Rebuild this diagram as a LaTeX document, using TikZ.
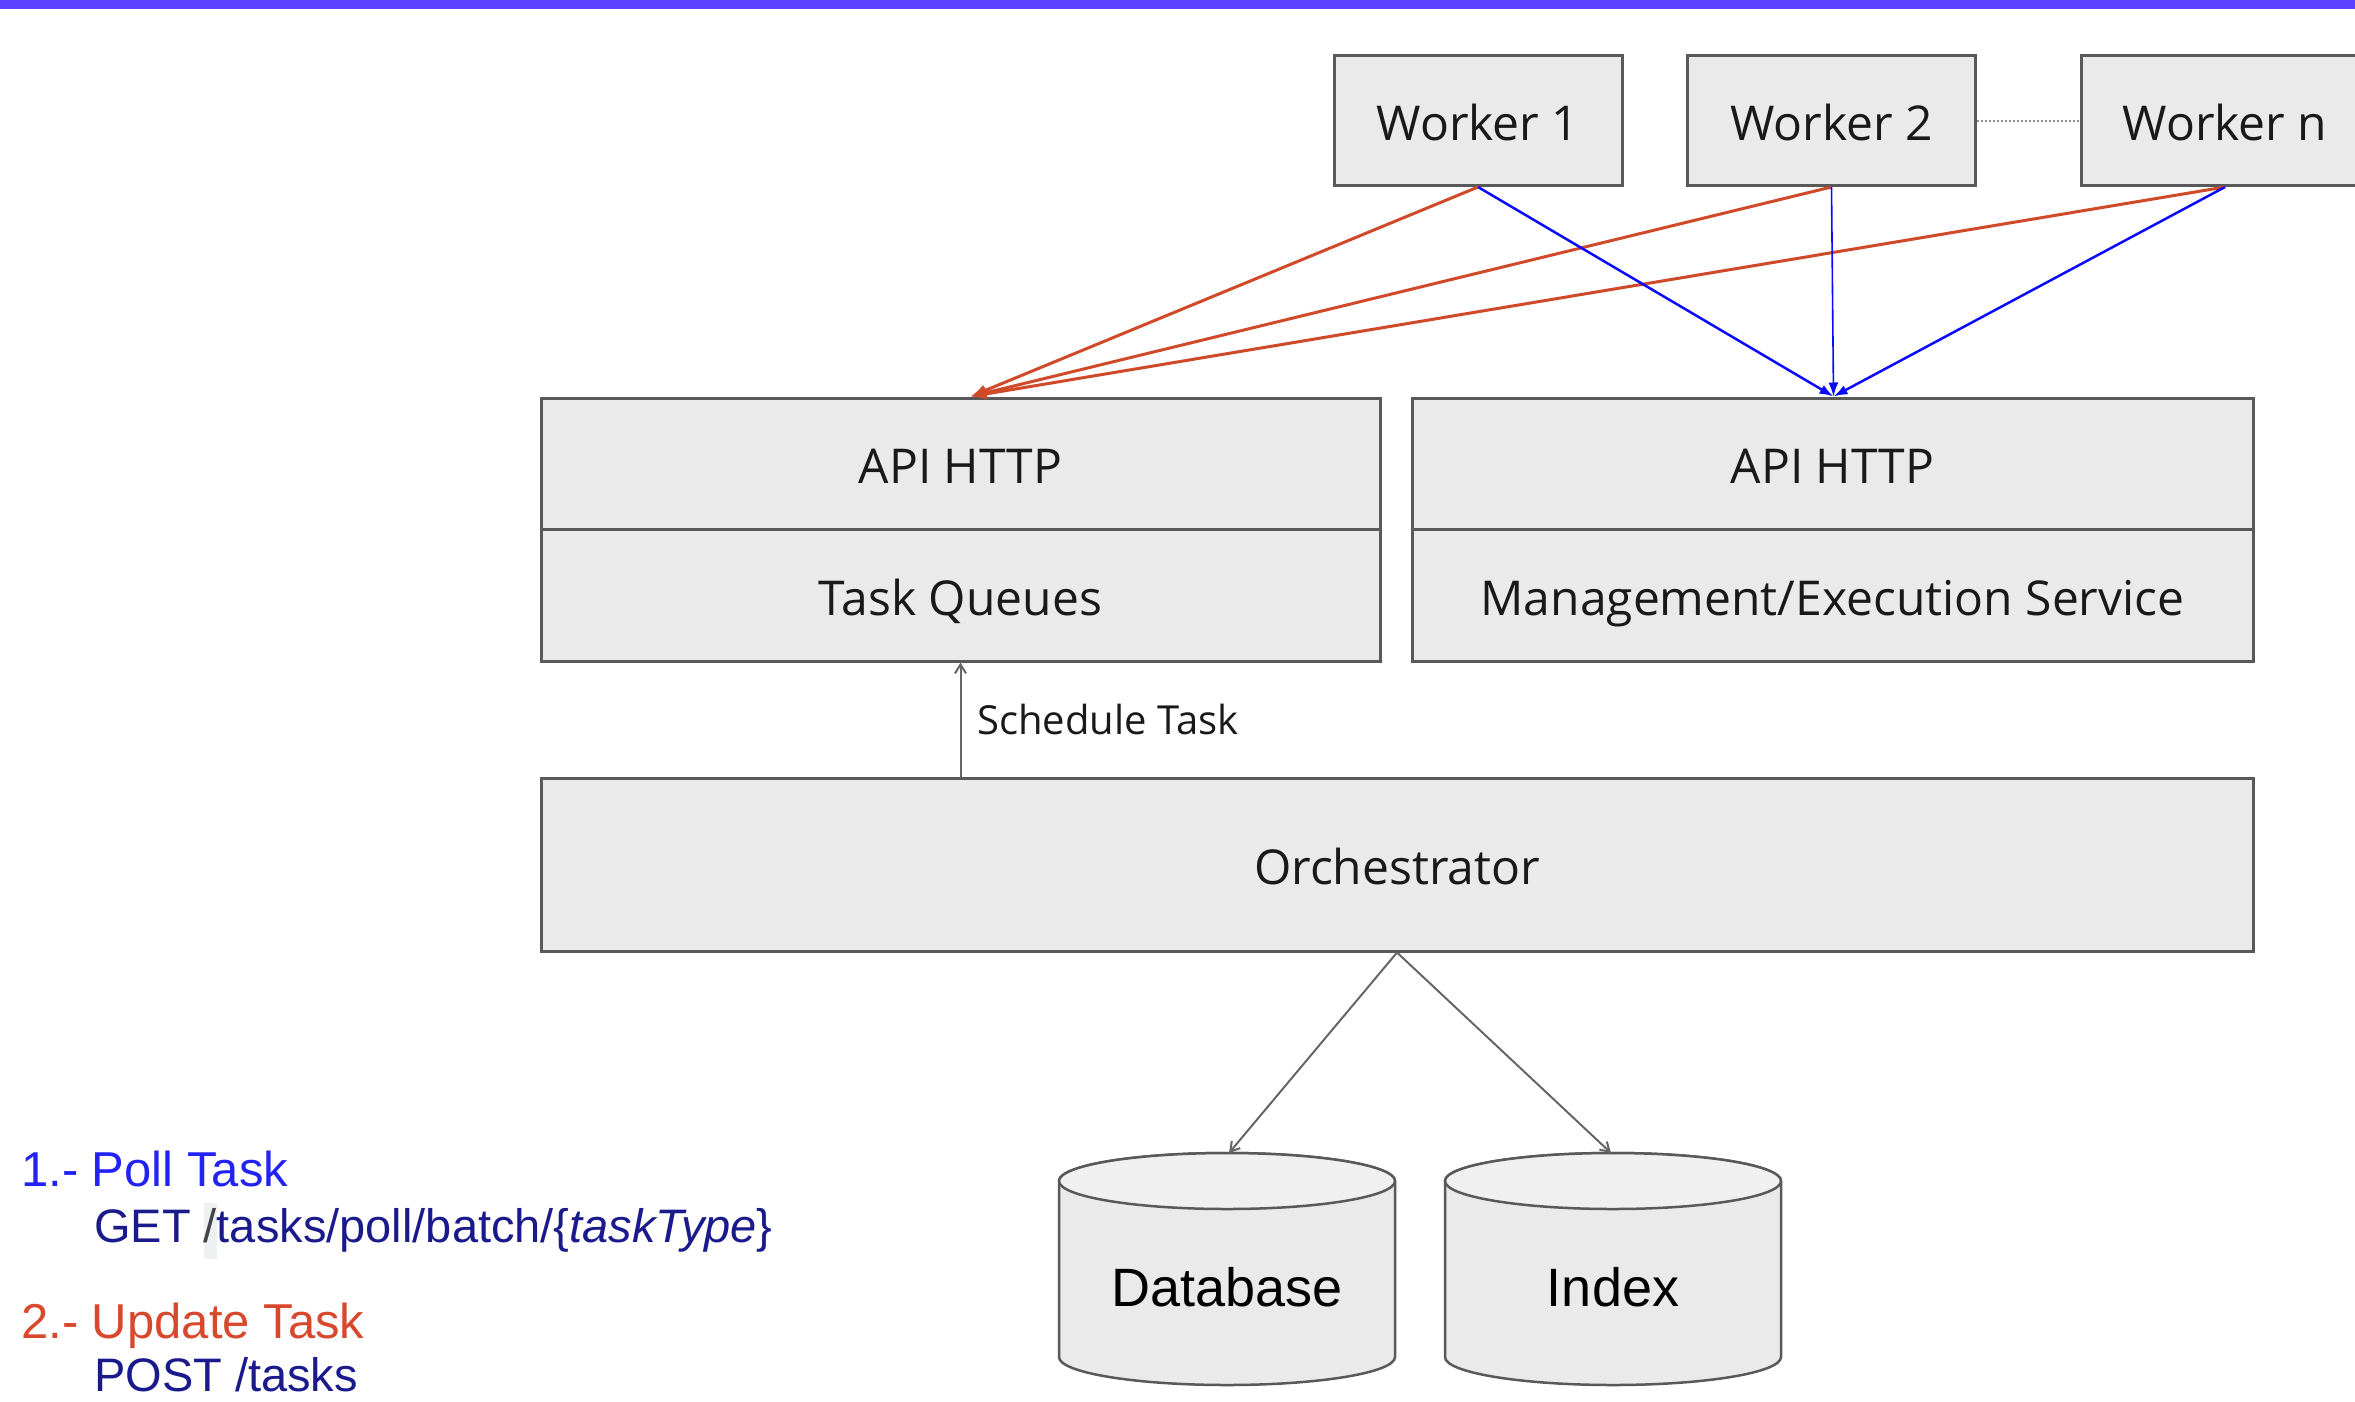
\documentclass[tikz,border=0pt]{standalone}
\usepackage{fontspec}
\setmainfont{Liberation Sans}
\newfontfamily\osans{Open Sans}
\usetikzlibrary{arrows.meta}

\definecolor{topbar}{HTML}{5B40FF}
\definecolor{bord}{HTML}{595959}
\definecolor{boxfill}{HTML}{EAEAEA}
\definecolor{toplight}{HTML}{F0F0F0}
\definecolor{redarr}{HTML}{D04A2A}
\definecolor{bluearr}{HTML}{0A0AFF}
\definecolor{navy}{HTML}{1A1A8C}
\definecolor{pollblue}{HTML}{2222F5}
\definecolor{updred}{HTML}{D8482C}
\definecolor{hlgray}{HTML}{EEF1F1}
\definecolor{slashgray}{HTML}{444444}

\begin{document}
\begin{tikzpicture}[x=1pt,y=-1pt,
  blk/.style={draw=bord, line width=3pt, fill=boxfill, inner sep=0pt,
    text height=40pt, text depth=0pt,
    font=\osans\fontsize{48}{57}\selectfont, text=black!90},
  wrk/.style={blk, minimum width=288pt, minimum height=130pt},
  redline/.style={draw=redarr, line width=3pt, -{Latex[length=16pt,width=12pt]}},
  blueline/.style={draw=bluearr, line width=2.5pt, -{Latex[length=14pt,width=10pt]}},
  grayarr/.style={draw=black!60, line width=2pt, -{Straight Barb[length=9pt,width=11pt]}},
  cyl/.style={draw=bord, line width=2.5pt, fill=boxfill},
  cyltop/.style={draw=bord, line width=2.5pt, fill=toplight},
  lbl/.style={anchor=base west, inner sep=0pt, font=\fontsize{47}{56}\selectfont},
  head/.style={anchor=base west, inner sep=0pt, font=\fontsize{49}{58}\selectfont}]
\useasboundingbox (0,0) rectangle (2355,1401);
\clip (0,0) rectangle (2355,1401);

% top bar
\fill[topbar] (0,0) rectangle (2355,9);

% workers
\node[wrk] (w1) at (1478,120.5) {Worker 1};
\node[wrk] (w2) at (1831.5,120.5) {Worker 2};
\node[wrk] (wn) at (2225,120.5) {Worker n};
\draw[black!45, line width=2pt, dotted] (w2.east) -- (wn.west);

% API boxes
\node[blk, minimum width=839pt, minimum height=131pt] (lapi) at (960.5,463.5) {API HTTP};
\node[blk, minimum width=839pt, minimum height=132pt] (tq) at (960.5,595) {Task Queues};
\node[blk, minimum width=841pt, minimum height=131pt] (rapi) at (1832.5,463.5) {API HTTP};
\node[blk, minimum width=841pt, minimum height=132pt] (mes) at (1832.5,595) {Management/Execution Service};

% orchestrator
\node[blk, minimum width=1712pt, minimum height=173pt] (orch) at (1397,864.5) {Orchestrator};

% connectors from workers
\coordinate (rtip) at ([xshift=10pt]lapi.north);
\coordinate (btip) at ([xshift=1pt]rapi.north);
\draw[redline] (w1.south) -- (rtip);
\draw[redline] (w2.south) -- (rtip);
\draw[redline] (wn.south) -- (rtip);
\draw[blueline] (w1.south) -- (btip);
\draw[blueline, line width=1.6pt] (w2.south) -- (btip);
\draw[blueline] (wn.south) -- (btip);

% schedule task
\draw[grayarr] (tq.south |- orch.north) -- (tq.south);
\node[anchor=west, inner sep=0pt, font=\osans\fontsize{40}{48}\selectfont, text=black!90] (sched) at (977,719) {Schedule Task};

% database cylinder
\filldraw[cyl] (1059,1181) -- (1059,1357) arc[start angle=180, end angle=360, x radius=168pt, y radius=28pt]
  -- (1395,1181) arc[start angle=0, end angle=180, x radius=168pt, y radius=28pt] -- cycle;
\filldraw[cyltop] (1227,1181) ellipse[x radius=168pt, y radius=28pt];
\node[font=\fontsize{54}{64}\selectfont, text=black] (db) at (1227,1287) {Database};
\coordinate (dbtop) at (1229,1153);

% index cylinder
\filldraw[cyl] (1445,1181) -- (1445,1357) arc[start angle=180, end angle=360, x radius=168pt, y radius=28pt]
  -- (1781,1181) arc[start angle=0, end angle=180, x radius=168pt, y radius=28pt] -- cycle;
\filldraw[cyltop] (1613,1181) ellipse[x radius=168pt, y radius=28pt];
\node[font=\fontsize{54}{64}\selectfont, text=black] (ix) at (1613,1287) {Index};
\coordinate (ixtop) at (1611,1153);

\draw[grayarr] (orch.south) -- (dbtop);
\draw[grayarr] (orch.south) -- (ixtop);

% legend
\node[head, text=pollblue] (poll) at (21,1186) {1.- Poll Task};
\node[lbl, text=navy] (get) at (94,1242) {GET {\setlength\fboxsep{0pt}\colorbox{hlgray}{\strut\textcolor{slashgray}{/}}}tasks/poll/batch/\{\textit{taskType}\}};
\node[head, text=updred] (upd) at (21,1338) {2.- Update Task};
\node[lbl, text=navy] (post) at (94,1391) {POST /tasks};
\end{tikzpicture}
\end{document}
